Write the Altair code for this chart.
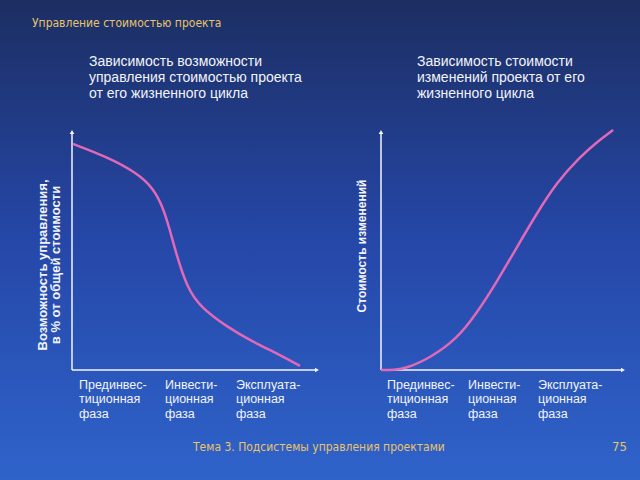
import altair as alt
import pandas as pd

# ---- data ----
left_x = [0.4, 14.6, 27.1, 33.8, 37.9, 40.8, 43.8, 47.9, 53.3, 64.6, 75.4, 86.7, 95.0]
left_y = [94.2, 88.8, 82.1, 75.8, 67.9, 58.3, 47.1, 34.6, 26.3, 17.9, 11.7, 6.3, 1.7]

right_x = [0.0, 5.4, 10.8, 20.4, 31.7, 40.0, 48.3, 56.7, 65.0, 73.3, 82.9, 90.0, 96.7]
right_y = [0.0, 0.0, 0.8, 5.0, 13.0, 23.8, 36.8, 51.3, 65.4, 78.3, 88.8, 95.0, 100.0]

slide_title = "Управление стоимостью проекта"
left_title = ["Зависимость возможности", "управления стоимостью проекта", "от его жизненного цикла"]
right_title = ["Зависимость стоимости", "изменений проекта от его", "жизненного цикла"]
left_ylabel = ["Возможность управления,", "в % от общей стоимости"]
right_ylabel = ["Стоимость изменений"]
phases = [["Прединвес-", "тиционная", "фаза"], ["Инвести-", "ционная", "фаза"], ["Эксплуата-", "ционная", "фаза"]]
footer = "Тема 3. Подсистемы управления проектами"
page = "75"

W, H = 640, 480
GOLD = "#e8c46a"
PINK = "#e268b8"
WHITE = "#f2f4fa"
LINEFONT = "Liberation Sans"

left_df = pd.DataFrame({"x": left_x, "y": left_y})
right_df = pd.DataFrame({"x": right_x, "y": right_y})
dummy = pd.DataFrame({"a": [0]})

bg = alt.Chart(dummy).mark_rect(
    color=alt.Gradient(
        gradient="linear", x1=0, y1=0, x2=0, y2=1,
        stops=[alt.GradientStop(color="#1c2e62", offset=0),
               alt.GradientStop(color="#2547a8", offset=0.5),
               alt.GradientStop(color="#2f63ca", offset=1)])
).encode(x=alt.value(0), x2=alt.value(W), y=alt.value(0), y2=alt.value(H))


def curve(df, x0):
    return alt.Chart(df).mark_line(color=PINK, strokeWidth=2.5, interpolate="basis").encode(
        x=alt.X("x:Q", scale=alt.Scale(domain=[0, 100], range=[x0, x0 + 240]), axis=None),
        y=alt.Y("y:Q", scale=alt.Scale(domain=[0, 100], range=[370, 130]), axis=None),
    )


def axes(x0, xend):
    v = alt.Chart(dummy).mark_rule(color=WHITE, strokeWidth=1.5).encode(
        x=alt.value(x0), y=alt.value(132), y2=alt.value(370))
    h = alt.Chart(dummy).mark_rule(color=WHITE, strokeWidth=1.5).encode(
        x=alt.value(x0), x2=alt.value(xend - 2), y=alt.value(370))
    up = alt.Chart(dummy).mark_point(shape="triangle-up", filled=True, color=WHITE, size=22, opacity=1).encode(
        x=alt.value(x0), y=alt.value(132))
    right = alt.Chart(dummy).mark_point(shape="triangle-right", filled=True, color=WHITE, size=22, opacity=1).encode(
        x=alt.value(xend), y=alt.value(370))
    return [v, h, up, right]


def text(s, x, y, size=14, color=WHITE, font=LINEFONT, weight="normal", angle=0, align="left",
         baseline="middle", lh=None):
    kw = dict(text=s, color=color, font=font, fontSize=size, fontWeight=weight,
              align=align, baseline=baseline, lineHeight=lh if lh else size * 1.15)
    if angle:
        kw["angle"] = angle
    return alt.Chart(dummy).mark_text(**kw).encode(x=alt.value(x), y=alt.value(y))


layers = [bg]
layers += axes(72, 317)
layers += axes(381, 623)
layers += [curve(left_df, 72), curve(right_df, 381)]

layers.append(text(slide_title, 32, 23, size=12, color=GOLD, font="DejaVu Sans Condensed"))
layers.append(text(left_title, 89, 62, size=14))
layers.append(text(right_title, 417, 62, size=14))

layers.append(text(left_ylabel, 43, 265, size=13, weight="bold", angle=270, align="center", lh=12.5))
layers.append(text(right_ylabel, 362, 246, size=12, weight="bold", angle=270, align="center"))

for px, ph in zip([79, 165, 236], phases):
    layers.append(text(ph, px, 385, size=12.5))
for px, ph in zip([387, 468, 538], phases):
    layers.append(text(ph, px, 385, size=12.5))

layers.append(text(footer, 193, 447, size=12, color=GOLD, font="DejaVu Sans Condensed"))
layers.append(text(page, 612, 447, size=13, color=GOLD, font="DejaVu Sans Condensed"))

chart = alt.layer(*layers).resolve_scale(x="independent", y="independent").properties(
    width=W, height=H, autosize=alt.AutoSizeParams(type="none"), padding=0
).configure_view(stroke=None).configure(background="#1c2e62")

chart.save("out.html", embed_options={"renderer": "svg", "actions": False})
